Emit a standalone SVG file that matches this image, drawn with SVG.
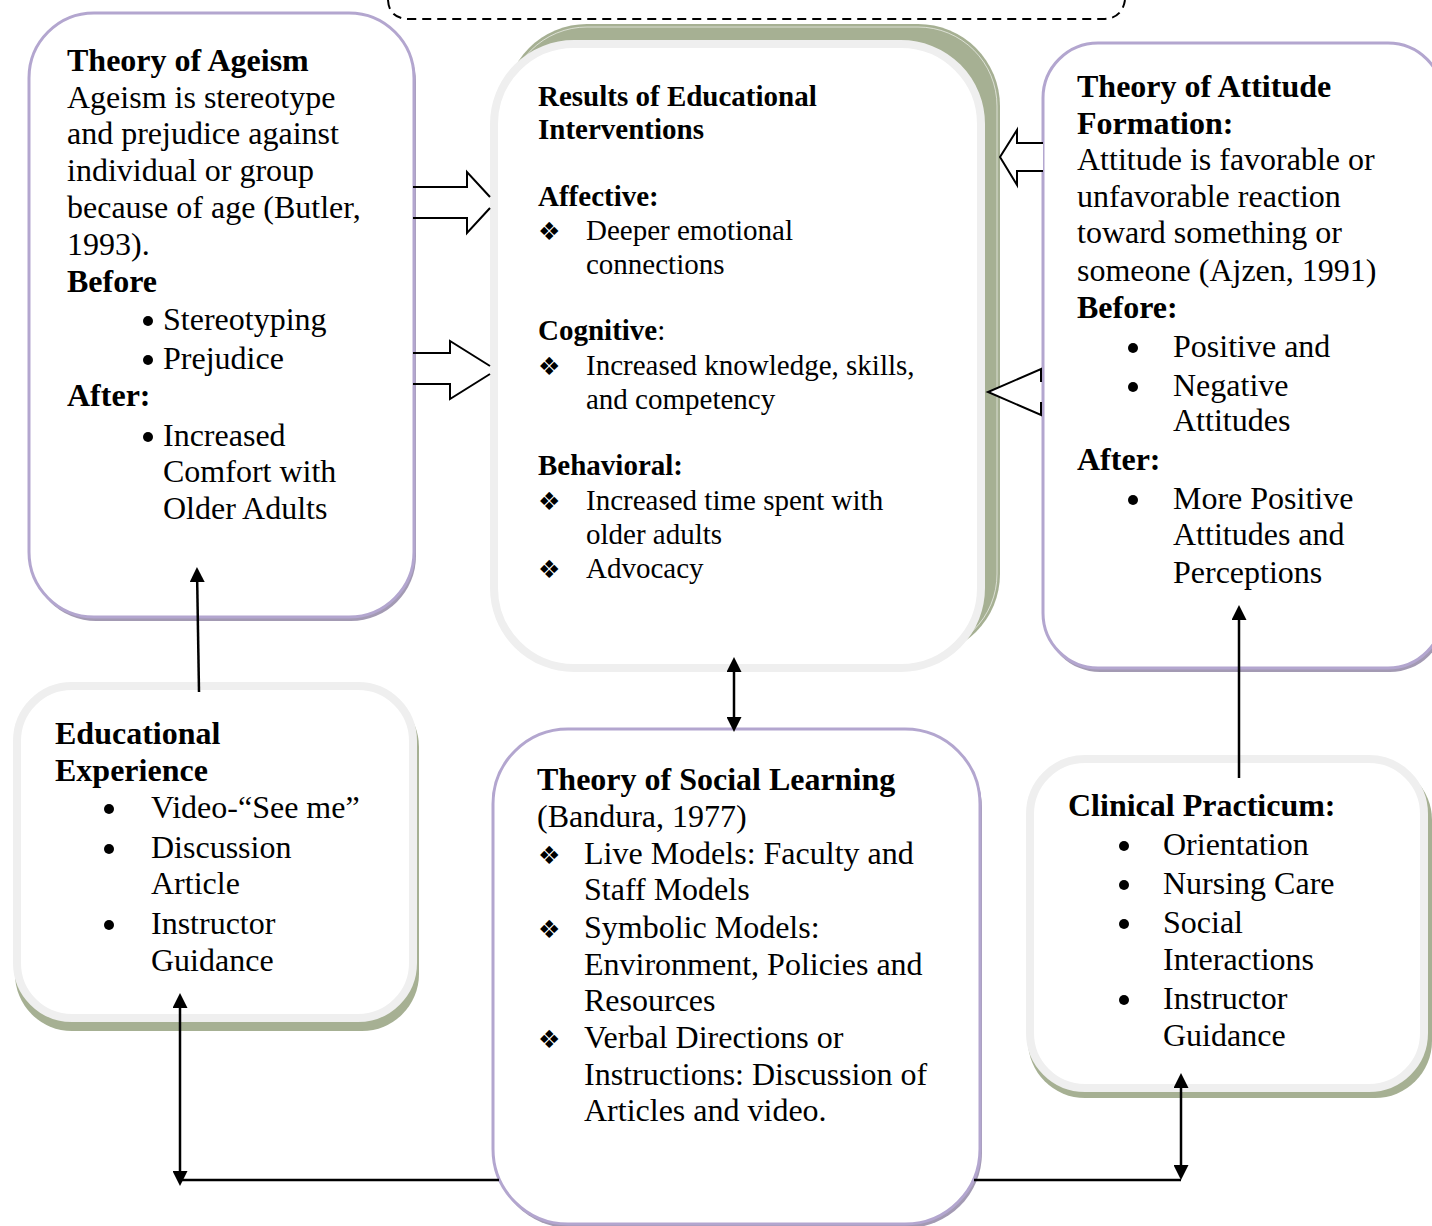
<svg xmlns="http://www.w3.org/2000/svg" width="1432" height="1226" viewBox="0 0 1432 1226">
  <style>
    text { font-family: "Liberation Serif", "Times New Roman", serif; fill: #000; }
    .t32 { font-size: 32px; }
    .t29 { font-size: 29px; }
    .b { font-weight: bold; }
    .dia { font-family: "DejaVu Sans", sans-serif; font-size: 25px; }
    .pbox { fill: #fff; stroke: #b3a6cf; stroke-width: 3; }
    .pshadow { fill: #a39ab3; }
    .gbox { fill: #fff; stroke: #efefef; stroke-width: 8; }
    .gshadow { fill: #a6b093; }
    .conn { stroke: #000; stroke-width: 2.5; fill: none; }
    .block { stroke: #000; stroke-width: 2; fill: #fff; stroke-linejoin: miter; }
  </style>
  <defs>
    <marker id="head" viewBox="0 0 10 10" refX="0" refY="5" markerUnits="userSpaceOnUse" markerWidth="15" markerHeight="15" orient="auto-start-reverse">
      <path d="M0,0 L10,5 L0,10 z" fill="#000"/>
    </marker>
  </defs>

  <rect width="1432" height="1226" fill="#fff"/>

  <!-- dashed frame running off the top edge -->
  <path d="M388,0 Q389,19 410,19 L1103,19 Q1122,19 1125,0" fill="none" stroke="#000" stroke-width="2" stroke-dasharray="9 6"/>

  <!-- Theory of Ageism -->
  <g id="ageism">
    <rect class="pshadow" x="31" y="17" width="385" height="604" rx="65"/>
    <rect class="pbox" x="29" y="13" width="385" height="604" rx="65"/>
    <text class="t32">
      <tspan class="b" x="67" y="71">Theory of Ageism</tspan>
      <tspan x="67" y="108">Ageism is stereotype</tspan>
      <tspan x="67" y="144">and prejudice against</tspan>
      <tspan x="67" y="181">individual or group</tspan>
      <tspan x="67" y="218">because of age (Butler,</tspan>
      <tspan x="67" y="255">1993).</tspan>
      <tspan class="b" x="67" y="292">Before</tspan>
      <tspan x="163" y="330">Stereotyping</tspan>
      <tspan x="163" y="369">Prejudice</tspan>
      <tspan class="b" x="67" y="406">After:</tspan>
      <tspan x="163" y="446">Increased</tspan>
      <tspan x="163" y="482">Comfort with</tspan>
      <tspan x="163" y="519">Older Adults</tspan>
    </text>
    <circle cx="148" cy="321" r="5"/>
    <circle cx="148" cy="360" r="5"/>
    <circle cx="148" cy="437" r="5"/>
  </g>

  <!-- Results of Educational Interventions -->
  <g id="results">
    <rect class="gshadow" x="505" y="24" width="495" height="632" rx="82"/>
    <rect x="508" y="27" width="489" height="626" rx="79" fill="none" stroke="#fff" stroke-width="1" opacity="0.6"/>
    <rect class="gbox" x="494" y="44" width="487" height="624" rx="80"/>
    <text class="t29">
      <tspan class="b" x="538" y="106">Results of Educational</tspan>
      <tspan class="b" x="538" y="139">Interventions</tspan>
      <tspan class="b" x="538" y="206">Affective:</tspan>
      <tspan x="586" y="240">Deeper emotional</tspan>
      <tspan x="586" y="274">connections</tspan>
      <tspan x="538" y="340"><tspan class="b">Cognitive</tspan>:</tspan>
      <tspan x="586" y="375">Increased knowledge, skills,</tspan>
      <tspan x="586" y="409">and competency</tspan>
      <tspan class="b" x="538" y="475">Behavioral:</tspan>
      <tspan x="586" y="510">Increased time spent with</tspan>
      <tspan x="586" y="544">older adults</tspan>
      <tspan x="586" y="578">Advocacy</tspan>
    </text>
    <text class="dia">
      <tspan x="538" y="240">❖</tspan>
      <tspan x="538" y="375">❖</tspan>
      <tspan x="538" y="510">❖</tspan>
      <tspan x="538" y="578">❖</tspan>
    </text>
  </g>

  <!-- Theory of Attitude Formation -->
  <g id="attitude">
    <rect class="pshadow" x="1045" y="47" width="400" height="625" rx="55"/>
    <rect class="pbox" x="1043" y="43" width="400" height="625" rx="55"/>
    <text class="t32">
      <tspan class="b" x="1077" y="97">Theory of Attitude</tspan>
      <tspan class="b" x="1077" y="134">Formation:</tspan>
      <tspan x="1077" y="170">Attitude is favorable or</tspan>
      <tspan x="1077" y="207">unfavorable reaction</tspan>
      <tspan x="1077" y="243">toward something or</tspan>
      <tspan x="1077" y="281">someone (Ajzen, 1991)</tspan>
      <tspan class="b" x="1077" y="318">Before:</tspan>
      <tspan x="1173" y="357">Positive and</tspan>
      <tspan x="1173" y="396">Negative</tspan>
      <tspan x="1173" y="431">Attitudes</tspan>
      <tspan class="b" x="1077" y="470">After:</tspan>
      <tspan x="1173" y="509">More Positive</tspan>
      <tspan x="1173" y="545">Attitudes and</tspan>
      <tspan x="1173" y="583">Perceptions</tspan>
    </text>
    <circle cx="1133" cy="348" r="5"/>
    <circle cx="1133" cy="387" r="5"/>
    <circle cx="1133" cy="500" r="5"/>
  </g>

  <!-- Educational Experience -->
  <g id="experience">
    <rect class="gshadow" x="15" y="690" width="404" height="341" rx="57"/>
    <rect class="gbox" x="17" y="686" width="396" height="332" rx="55"/>
    <text class="t32">
      <tspan class="b" x="55" y="744">Educational</tspan>
      <tspan class="b" x="55" y="781">Experience</tspan>
      <tspan x="151" y="818">Video-“See me”</tspan>
      <tspan x="151" y="858">Discussion</tspan>
      <tspan x="151" y="894">Article</tspan>
      <tspan x="151" y="934">Instructor</tspan>
      <tspan x="151" y="971">Guidance</tspan>
    </text>
    <circle cx="109" cy="809" r="5"/>
    <circle cx="109" cy="849" r="5"/>
    <circle cx="109" cy="925" r="5"/>
  </g>

  <!-- Theory of Social Learning -->
  <g id="social">
    <rect class="pshadow" x="495" y="733" width="487" height="495" rx="75"/>
    <rect class="pbox" x="493" y="729" width="487" height="495" rx="75"/>
    <text class="t32">
      <tspan class="b" x="537" y="790">Theory of Social Learning</tspan>
      <tspan x="537" y="827">(Bandura, 1977)</tspan>
      <tspan x="584" y="864">Live Models: Faculty and</tspan>
      <tspan x="584" y="900">Staff Models</tspan>
      <tspan x="584" y="938">Symbolic Models:</tspan>
      <tspan x="584" y="975">Environment, Policies and</tspan>
      <tspan x="584" y="1011">Resources</tspan>
      <tspan x="584" y="1048">Verbal Directions or</tspan>
      <tspan x="584" y="1085">Instructions: Discussion of</tspan>
      <tspan x="584" y="1121">Articles and video.</tspan>
    </text>
    <text class="dia">
      <tspan x="538" y="864">❖</tspan>
      <tspan x="538" y="938">❖</tspan>
      <tspan x="538" y="1048">❖</tspan>
    </text>
  </g>

  <!-- Clinical Practicum -->
  <g id="practicum">
    <rect class="gshadow" x="1028" y="763" width="404" height="335" rx="57"/>
    <rect class="gbox" x="1030" y="759" width="394" height="329" rx="55"/>
    <text class="t32">
      <tspan class="b" x="1068" y="816">Clinical Practicum:</tspan>
      <tspan x="1163" y="855">Orientation</tspan>
      <tspan x="1163" y="894">Nursing Care</tspan>
      <tspan x="1163" y="933">Social</tspan>
      <tspan x="1163" y="970">Interactions</tspan>
      <tspan x="1163" y="1009">Instructor</tspan>
      <tspan x="1163" y="1046">Guidance</tspan>
    </text>
    <circle cx="1124" cy="846" r="5"/>
    <circle cx="1124" cy="885" r="5"/>
    <circle cx="1124" cy="924" r="5"/>
    <circle cx="1124" cy="1000" r="5"/>
  </g>

  <!-- connectors -->
  <g id="connectors">
    <!-- block arrows into the results box -->
    <path class="block" fill="none" d="M490,197 L467,172 L467,187 L413,187 M413,218 L467,218 L467,233 L490,208"/>
    <path class="block" fill="none" d="M490,366 L450,341 L450,353 L413,353 M413,384 L450,384 L450,399 L490,374"/>
    <path class="block" d="M1043,143 L1017,143 L1017,130 L1000,157 L1017,185 L1017,171 L1043,171"/>
    <path class="block" d="M1041,382 L1041,369 L988,392 L1041,415 L1041,402"/>

    <!-- single and double headed arrows -->
    <path class="conn" d="M199,692 L197.2,582" marker-end="url(#head)"/>
    <path class="conn" d="M1239,778 L1239,620" marker-end="url(#head)"/>
    <path class="conn" d="M734,672 L734,717" marker-start="url(#head)" marker-end="url(#head)"/>
    <path class="conn" d="M180,1008 L180,1171" marker-start="url(#head)" marker-end="url(#head)"/>
    <path class="conn" d="M180,1180 L499,1180"/>
    <path class="conn" d="M1181,1088 L1181,1165" marker-start="url(#head)" marker-end="url(#head)"/>
    <path class="conn" d="M974,1180 L1181,1180"/>
  </g>
</svg>
